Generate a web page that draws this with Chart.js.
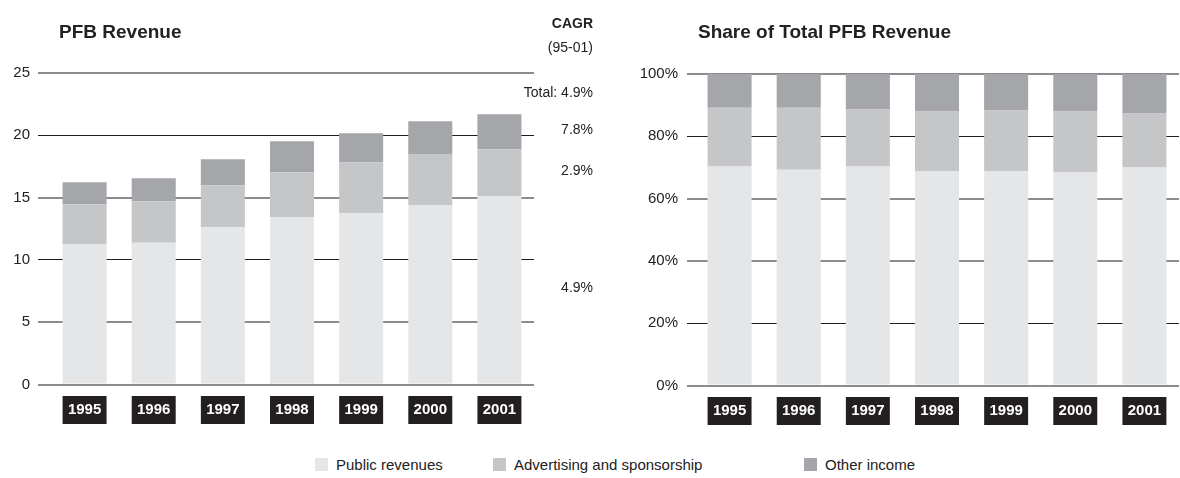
<!DOCTYPE html>
<html>
<head>
<meta charset="utf-8">
<script src="https://cdn.jsdelivr.net/npm/chart.js@4.4.1/dist/chart.umd.min.js"></script>
<style>
  body { margin: 0; background: #fff; width: 1180px; height: 478px; position: relative; overflow: hidden; font-family: 'Liberation Sans', Arial, sans-serif; color: #222; }
  canvas { position: absolute; top: 0; }
  #left { left: 0; }
  #right { left: 600px; }
  .title { position: absolute; top: 21px; font: bold 19px 'Liberation Sans', Arial, sans-serif; color: #222; }
  .cagr { position: absolute; right: 587px; top: 11px; text-align: right; font-size: 14px; line-height: 24px; }
  .legend { position: absolute; top: 456px; font-size: 15px; line-height: 18px; white-space: nowrap; }
  .legend i { display: inline-block; width: 13px; height: 13px; vertical-align: -1px; margin-right: 8px; }
</style>
</head>
<body>
<canvas id="left" width="600" height="440"></canvas>
<canvas id="right" width="580" height="440"></canvas>
<div class="title" style="left:59px">PFB Revenue</div>
<div class="title" style="left:698px">Share of Total PFB Revenue</div>
<div class="cagr"><b>CAGR</b><br>(95-01)</div>
<div id="legend"></div>
<script>
const years = ["1995", "1996", "1997", "1998", "1999", "2000", "2001"];
const seriesNames = ["Public revenues", "Advertising and sponsorship", "Other income"];
const publicRevenue = [11.26, 11.37, 12.62, 13.43, 13.75, 14.41, 15.11];
const advertising = [3.21, 3.34, 3.38, 3.61, 4.08, 4.09, 3.77];
const otherIncome = [1.77, 1.85, 2.08, 2.49, 2.34, 2.63, 2.81];
const publicShare = [70.3, 69.3, 70.3, 68.9, 68.9, 68.4, 70.0];
const advertisingShare = [18.9, 19.9, 18.3, 19.1, 19.4, 19.6, 17.3];
const otherShare = [10.8, 10.8, 11.4, 12.0, 11.7, 12.0, 12.7];
const cagrTotal = "4.9%";
const cagrBySeries = ["4.9%", "2.9%", "7.8%"];

const colors = ["#e5e6e8", "#c5c6c8", "#a5a6a9"];
const font = "'Liberation Sans', Arial, sans-serif";

document.getElementById("legend").innerHTML = seriesNames.map((name, i) =>
    `<span class="legend" style="left:${[315, 493, 804][i]}px"><i style="background:${colors[i]}"></i>${name}</span>`).join("");

const cagrPlugin = {
    id: "cagr",
    afterDraw(chart) {
        const { ctx, scales: { y } } = chart;
        const last = years.length - 1;
        const parts = [publicRevenue[last], advertising[last], otherIncome[last]];
        ctx.save();
        ctx.font = `14px ${font}`;
        ctx.fillStyle = "#222";
        ctx.textAlign = "right";
        ctx.textBaseline = "middle";
        let base = 0;
        parts.forEach((v, i) => {
            ctx.fillText(cagrBySeries[i], 593, y.getPixelForValue(base + v / 2) - 2);
            base += v;
        });
        ctx.fillText(`Total: ${cagrTotal}`, 593, y.getPixelForValue(base) - 21);
        ctx.restore();
    }
};

function makeChart(id, sets, yOpts, darkTicks, axisWidth, tickLen, padRight, padTop, xHeight) {
    return new Chart(document.getElementById(id), {
        type: "bar",
        data: {
            labels: years,
            datasets: sets.map((data, i) => ({ label: seriesNames[i], data, backgroundColor: colors[i], barPercentage: 0.637, categoryPercentage: 1 }))
        },
        options: {
            responsive: false, animation: false, devicePixelRatio: 1,
            layout: { padding: { left: 0, right: padRight, top: padTop, bottom: 0 } },
            plugins: { legend: { display: false }, tooltip: { enabled: false } },
            scales: {
                x: {
                    stacked: true,
                    grid: { display: false, drawTicks: false },
                    border: { display: false },
                    afterFit: (s) => { s.height = xHeight; },
                    ticks: {
                        padding: 16.5, color: "#fff", font: { family: font, size: 15, weight: "bold", lineHeight: 1.2 },
                        showLabelBackdrop: true, backdropColor: "#231f20", backdropPadding: { x: 5.3, y: 5 }
                    }
                },
                y: {
                    stacked: true, min: 0, ...yOpts,
                    border: { display: false },
                    afterFit: (s) => { s.width = axisWidth; },
                    grid: {
                        tickLength: tickLen,
                        color: (c) => darkTicks.includes(c.tick.value) ? "#1e1e1e" : "#8c8c8c",
                        lineWidth: (c) => darkTicks.includes(c.tick.value) ? 1 : 2
                    },
                    ticks: { ...yOpts.ticks, color: "#222", font: { family: font, size: 15 } }
                }
            }
        },
        plugins: id === "left" ? [cagrPlugin] : []
    });
}

makeChart("left", [publicRevenue, advertising, otherIncome],
    { max: 25, ticks: { stepSize: 5, padding: 8 } }, [10, 20], 50, 12, 66, 73, 55.5);
makeChart("right", [publicShare, advertisingShare, otherShare],
    { max: 100, ticks: { stepSize: 20, padding: 9, callback: (v) => v + "%" } }, [20, 80], 95, 8, 1, 74, 54.5);
</script>
</body>
</html>
